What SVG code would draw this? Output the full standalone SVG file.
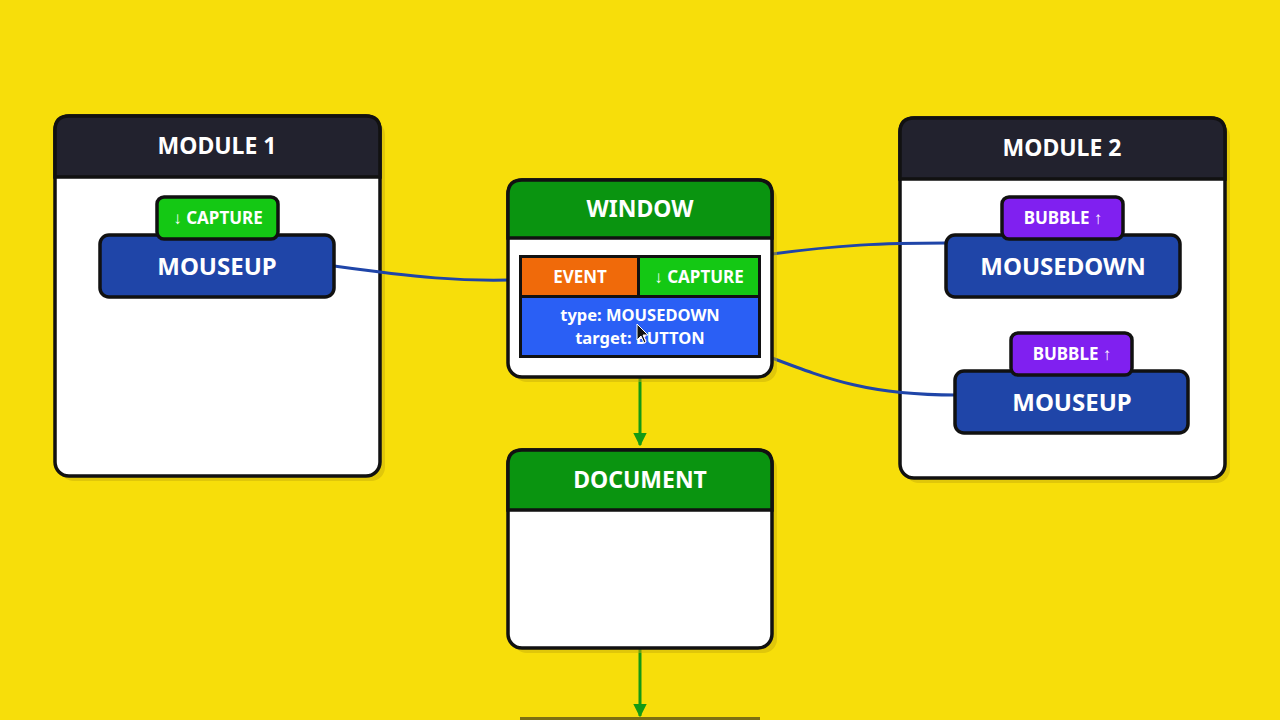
<svg xmlns="http://www.w3.org/2000/svg" width="1280" height="720" viewBox="0 0 1280 720">
<defs>
<style>
.t{font-family:"Noto Sans","Open Sans",sans-serif;font-weight:700;fill:#ffffff;text-anchor:middle}
.h{font-size:23px}
.b{font-size:24px}
.s{font-size:17px}
.e{font-size:16.5px}
.box{fill:#ffffff;stroke:#111111;stroke-width:3.5}
.shadow{fill:#c9b00a;opacity:0.5}
.line{fill:none;stroke:#1f45a8;stroke-width:3}
.flow{fill:none;stroke:#149a14;stroke-width:3}
</style>
<marker id="ah" viewBox="0 0 10 10" refX="9" refY="5" markerWidth="4.5" markerHeight="4.5" markerUnits="strokeWidth" orient="auto">
<path d="M0,0 L10,5 L0,10 z" fill="#149a14"/>
</marker>
</defs>
<rect width="1280" height="720" fill="#f7de0a"/>

<g id="module1">
<rect class="shadow" x="60" y="121" width="325" height="360" rx="14"/>
<rect class="box" x="55" y="116" width="325" height="360" rx="14"/>
<path d="M55,177 L55,130 Q55,116 69,116 L366,116 Q380,116 380,130 L380,177 z" fill="#22222e" stroke="#111" stroke-width="3.5"/>
<text class="t h" x="217" y="154">MODULE 1</text>
</g>
<g id="module2">
<rect class="shadow" x="905" y="123" width="325" height="360" rx="14"/>
<rect class="box" x="900" y="118" width="325" height="360" rx="14"/>
<path d="M900,179 L900,132 Q900,118 914,118 L1211,118 Q1225,118 1225,132 L1225,179 z" fill="#22222e" stroke="#111" stroke-width="3.5"/>
<text class="t h" x="1062" y="156">MODULE 2</text>
</g>

<g id="connectors">
<path class="line" d="M334,266 C420,278 460,281 509,280"/>
<path class="line" d="M772,254 C840,245 880,243 947,243"/>
<path class="line" d="M772,358 C830,380 870,395 956,395"/>
<path class="flow" d="M640,377 L640,445" marker-end="url(#ah)"/>
<path class="flow" d="M640,648 L640,716" marker-end="url(#ah)"/>
</g>

<g id="m1-mouseup">
<rect x="100" y="235" width="234" height="62" rx="9" fill="#1f45a8" stroke="#111" stroke-width="3.5"/>
<text class="t b" x="217" y="275">MOUSEUP</text>
<rect x="157" y="197" width="121" height="42" rx="7" fill="#14c814" stroke="#111" stroke-width="3.5"/>
<text class="t s" x="218" y="224">↓ CAPTURE</text>
</g>

<g id="m2-mousedown">
<rect x="946" y="235" width="234" height="62" rx="9" fill="#1f45a8" stroke="#111" stroke-width="3.5"/>
<text class="t b" x="1063" y="275">MOUSEDOWN</text>
<rect x="1002" y="197" width="121" height="42" rx="7" fill="#8020f0" stroke="#111" stroke-width="3.5"/>
<text class="t s" x="1063" y="224">BUBBLE ↑</text>
</g>

<g id="m2-mouseup">
<rect x="955" y="371" width="233" height="62" rx="9" fill="#1f45a8" stroke="#111" stroke-width="3.5"/>
<text class="t b" x="1072" y="411">MOUSEUP</text>
<rect x="1011" y="333" width="121" height="42" rx="7" fill="#8020f0" stroke="#111" stroke-width="3.5"/>
<text class="t s" x="1072" y="360">BUBBLE ↑</text>
</g>

<g id="window">
<rect class="shadow" x="513" y="185" width="264" height="197" rx="14"/>
<rect class="box" x="508" y="180" width="264" height="197" rx="14"/>
<path d="M508,238 L508,194 Q508,180 522,180 L758,180 Q772,180 772,194 L772,238 z" fill="#0a9410" stroke="#111" stroke-width="3.5"/>
<text class="t h" x="640" y="217">WINDOW</text>
<rect x="519" y="255" width="242" height="103" fill="#111"/>
<rect x="522" y="258" width="115" height="37" fill="#f06a0a"/>
<rect x="640" y="258" width="118" height="37" fill="#14c814"/>
<rect x="522" y="298" width="236" height="57" fill="#2a5ff5"/>
<text class="t s" x="580" y="283">EVENT</text>
<text class="t s" x="699" y="283">↓ CAPTURE</text>
<text class="t e" x="640" y="321">type: MOUSEDOWN</text>
<text class="t e" x="640" y="344">target: BUTTON</text>
<path d="M637,324 L637,340 L641,336 L644,343 L646,342 L643,335 L648,335 z" fill="#111" stroke="#fff" stroke-width="1"/>
</g>

<g id="document">
<rect class="shadow" x="513" y="455" width="264" height="198" rx="14"/>
<rect class="box" x="508" y="450" width="264" height="198" rx="14"/>
<path d="M508,510 L508,464 Q508,450 522,450 L758,450 Q772,450 772,464 L772,510 z" fill="#0a9410" stroke="#111" stroke-width="3.5"/>
<text class="t h" x="640" y="488">DOCUMENT</text>
</g>

<g id="next-node">
<rect x="520" y="717" width="240" height="3" fill="#7d7012"/>
</g>
</svg>
